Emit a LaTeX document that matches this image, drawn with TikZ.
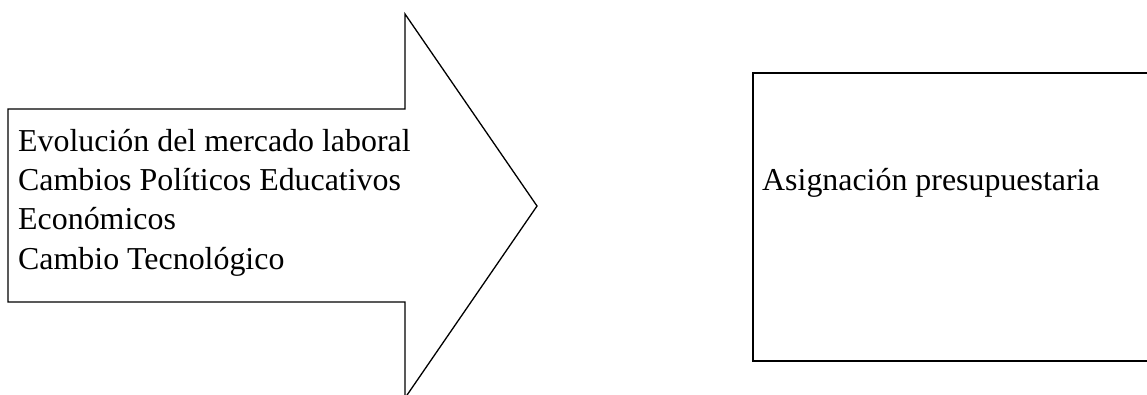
\documentclass[tikz,border=0pt]{standalone}
\usepackage{fontspec}
\setmainfont{Liberation Serif}
\begin{document}
\begin{tikzpicture}[x=1pt,y=-1pt,
  shapeline/.style={draw=black,line width=1.3pt,line join=miter},
  boxline/.style={draw=black,line width=1.9pt,line join=miter},
  label/.style={inner sep=0pt,align=left,font=\fontsize{31.9}{39.3}\selectfont}]
\useasboundingbox (0,0) rectangle (1147,394);
\begin{scope}
\clip (0,0) rectangle (1147,394);
\draw[shapeline] (8,109) -- (405,109) -- (405,14) -- (537,206) -- (405,398) -- (405,302) -- (8,302) -- cycle;
\draw[boxline] (753,73) rectangle (1152,361);
\end{scope}
\node[label,anchor=base west] (factors) at (18,269) {Evolución del mercado laboral\\Cambios Políticos Educativos\\Económicos\\Cambio Tecnológico};
\node[label,anchor=base west] (budget) at (762,190) {Asignación presupuestaria};
\end{tikzpicture}
\end{document}
